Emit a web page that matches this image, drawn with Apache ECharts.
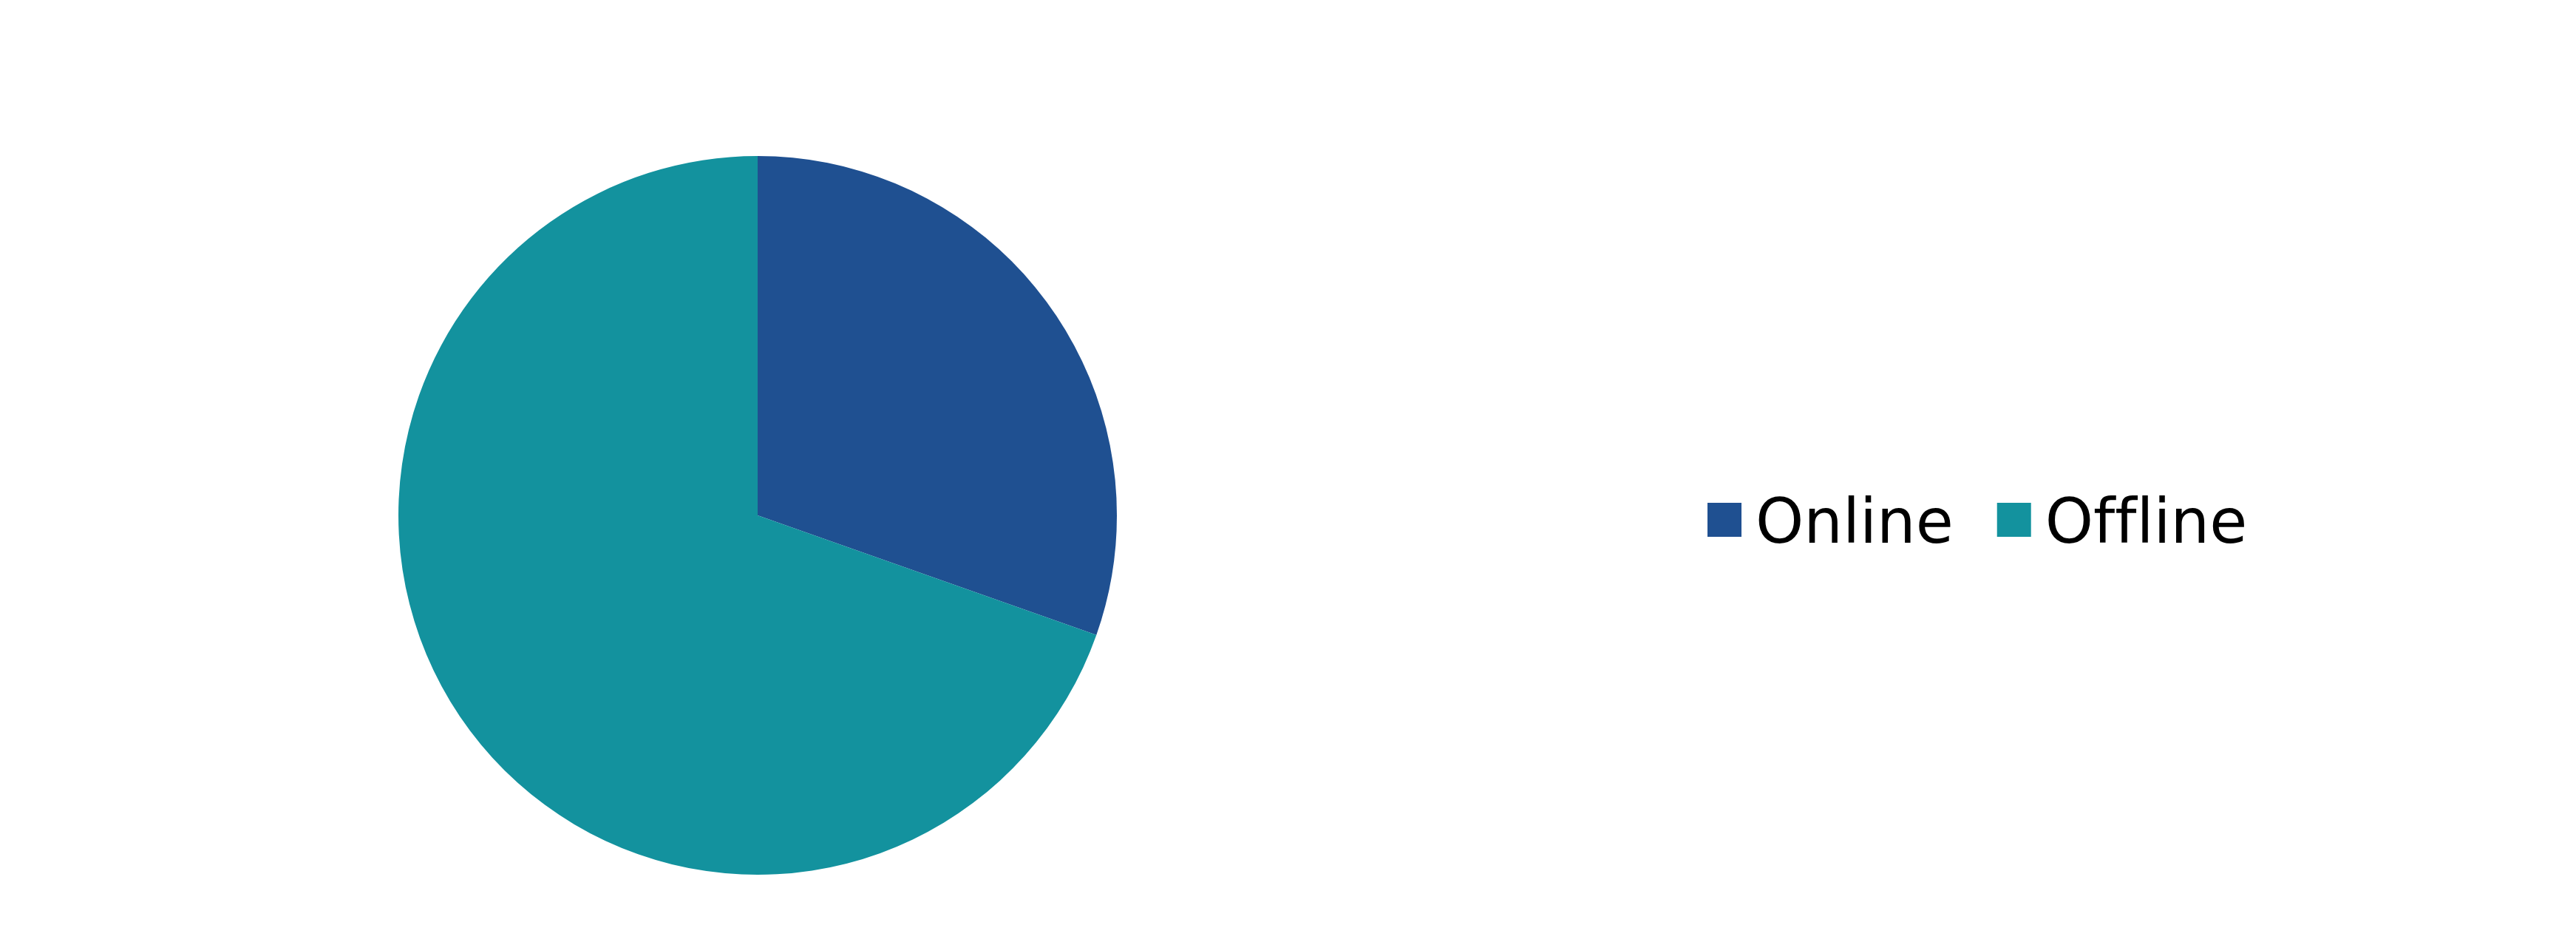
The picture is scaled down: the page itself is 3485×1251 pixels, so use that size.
<!DOCTYPE html>
<html>
<head>
<meta charset="utf-8">
<script src="https://cdn.jsdelivr.net/npm/echarts@6/dist/echarts.min.js"></script>
<style>
html,body{margin:0;padding:0;background:#fff;}
#chart{width:3485px;height:1251px;}
</style>
</head>
<body>
<div id="chart"></div>
<script>
var categories = ["Online", "Offline"];
var shares = [30.4, 69.6];
var colors = ["#1f5091", "#13929e"];

var chart = echarts.init(document.getElementById('chart'), null, {renderer: 'canvas'});
var data = categories.map(function (c, i) {
  return { name: c, value: shares[i], itemStyle: { color: colors[i] } };
});
chart.setOption({
  backgroundColor: '#ffffff',
  animation: false,
  legend: {
    data: categories,
    orient: 'horizontal',
    left: 2305,
    top: 664,
    itemWidth: 46,
    itemHeight: 64,
    itemGap: 59,
    // square swatch sitting slightly above the text's vertical centre
    icon: 'path://M0,0L46,0L46,46L0,46Z M0,64L0,64',
    formatter: function (name) {
      // break the "ffl" ligature so letters render separately
      return name.split('').join('\u200c');
    },
    textStyle: {
      fontFamily: 'DejaVu Sans',
      fontSize: 83,
      color: '#000000',
      lineHeight: 86,
      padding: [0, 0, 0, 14]
    }
  },
  series: [{
    type: 'pie',
    center: [1025, 697],
    radius: [0, 486],
    startAngle: 90,
    clockwise: true,
    label: { show: false },
    labelLine: { show: false },
    emphasis: { disabled: true },
    itemStyle: { borderWidth: 0 },
    data: data
  }]
});
</script>
</body>
</html>
